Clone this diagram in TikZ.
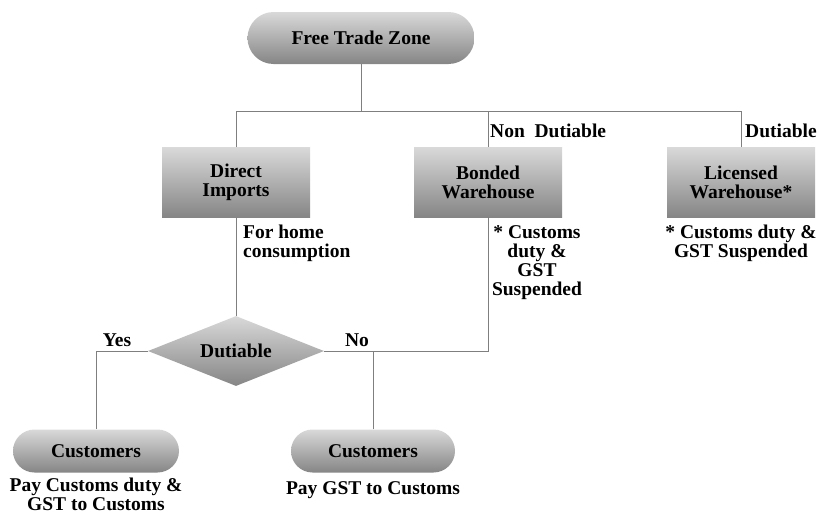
\documentclass[tikz,border=0pt]{standalone}
\usepackage{fontspec}
\setmainfont{Liberation Serif}
\usetikzlibrary{shapes.geometric,shapes.misc}
\definecolor{topg}{HTML}{D9D9D9}
\definecolor{botg}{HTML}{858585}
\definecolor{lineg}{HTML}{7F7F7F}
\tikzset{
  shadefill/.style={top color=topg, bottom color=botg, draw=none},
  pill/.style={shadefill, rounded rectangle, inner sep=0pt},
  boxnode/.style={shadefill, rectangle, inner sep=0pt, minimum width=148pt, minimum height=70pt, align=center},
  dianode/.style={shadefill, diamond, aspect=2.5, inner sep=0pt, minimum width=176pt, minimum height=70pt},
  lbl/.style={inner sep=0pt, align=center},
  conn/.style={draw=lineg, line width=0.9pt},
}
\begin{document}
\begin{tikzpicture}[x=1pt,y=-1pt, font=\fontsize{19.5}{19}\selectfont\bfseries]
\useasboundingbox (0,0) rectangle (820,514);
\node[pill, minimum width=227pt, minimum height=52pt] (ftz) at (361,38) {Free Trade Zone};
\node[boxnode] (di) at (236,182.5) {Direct\\Imports};
\node[boxnode] (bw) at (488,182) {Bonded\\Warehouse};
\node[boxnode] (lw) at (741,182) {Licensed\\Warehouse*};
\node[dianode] (dia) at (236,351) {Dutiable};
\node[pill, minimum width=166pt, minimum height=43pt] (c1) at (96,451) {Customers};
\node[pill, minimum width=164pt, minimum height=43pt] (c2) at (373,451) {Customers};

\coordinate (jL) at (236,111);
\coordinate (jR) at (741,111);
\coordinate (jN) at (488,351);
\draw[conn] (ftz.south) -- (ftz.south |- jL);
\draw[conn] (di.north) -- (jL) -- (jR) -- (lw.north);
\draw[conn] (bw.north) -- (bw.north |- jL);
\draw[conn] (di.south) -- (dia.north);
\draw[conn] (bw.south) -- (jN) -- (dia.east);
\draw[conn] (c2.north) -- (c2.north |- jN);
\draw[conn] (dia.west) -| (c1.north);

\node[lbl, anchor=west] (lnd) at (490,131) {Non\ \ Dutiable};
\node[lbl, anchor=west] (ld) at (745,131) {Dutiable};
\node[lbl, anchor=north west, align=left] (lfh) at (243,225) {For home\\consumption};
\node[lbl, anchor=north] (lcs) at (537,225) {* Customs\\duty \&\\GST\\Suspended};
\node[lbl, anchor=north] (lcs2) at (741,225) {* Customs duty \&\\GST Suspended};
\node[lbl] (lyes) at (117,340) {Yes};
\node[lbl] (lno) at (357,340) {No};
\node[lbl, anchor=north] (lp1) at (96,478) {Pay Customs duty \&\\GST to Customs};
\node[lbl, anchor=north] (lp2) at (373,481) {Pay GST to Customs};
\end{tikzpicture}
\end{document}
